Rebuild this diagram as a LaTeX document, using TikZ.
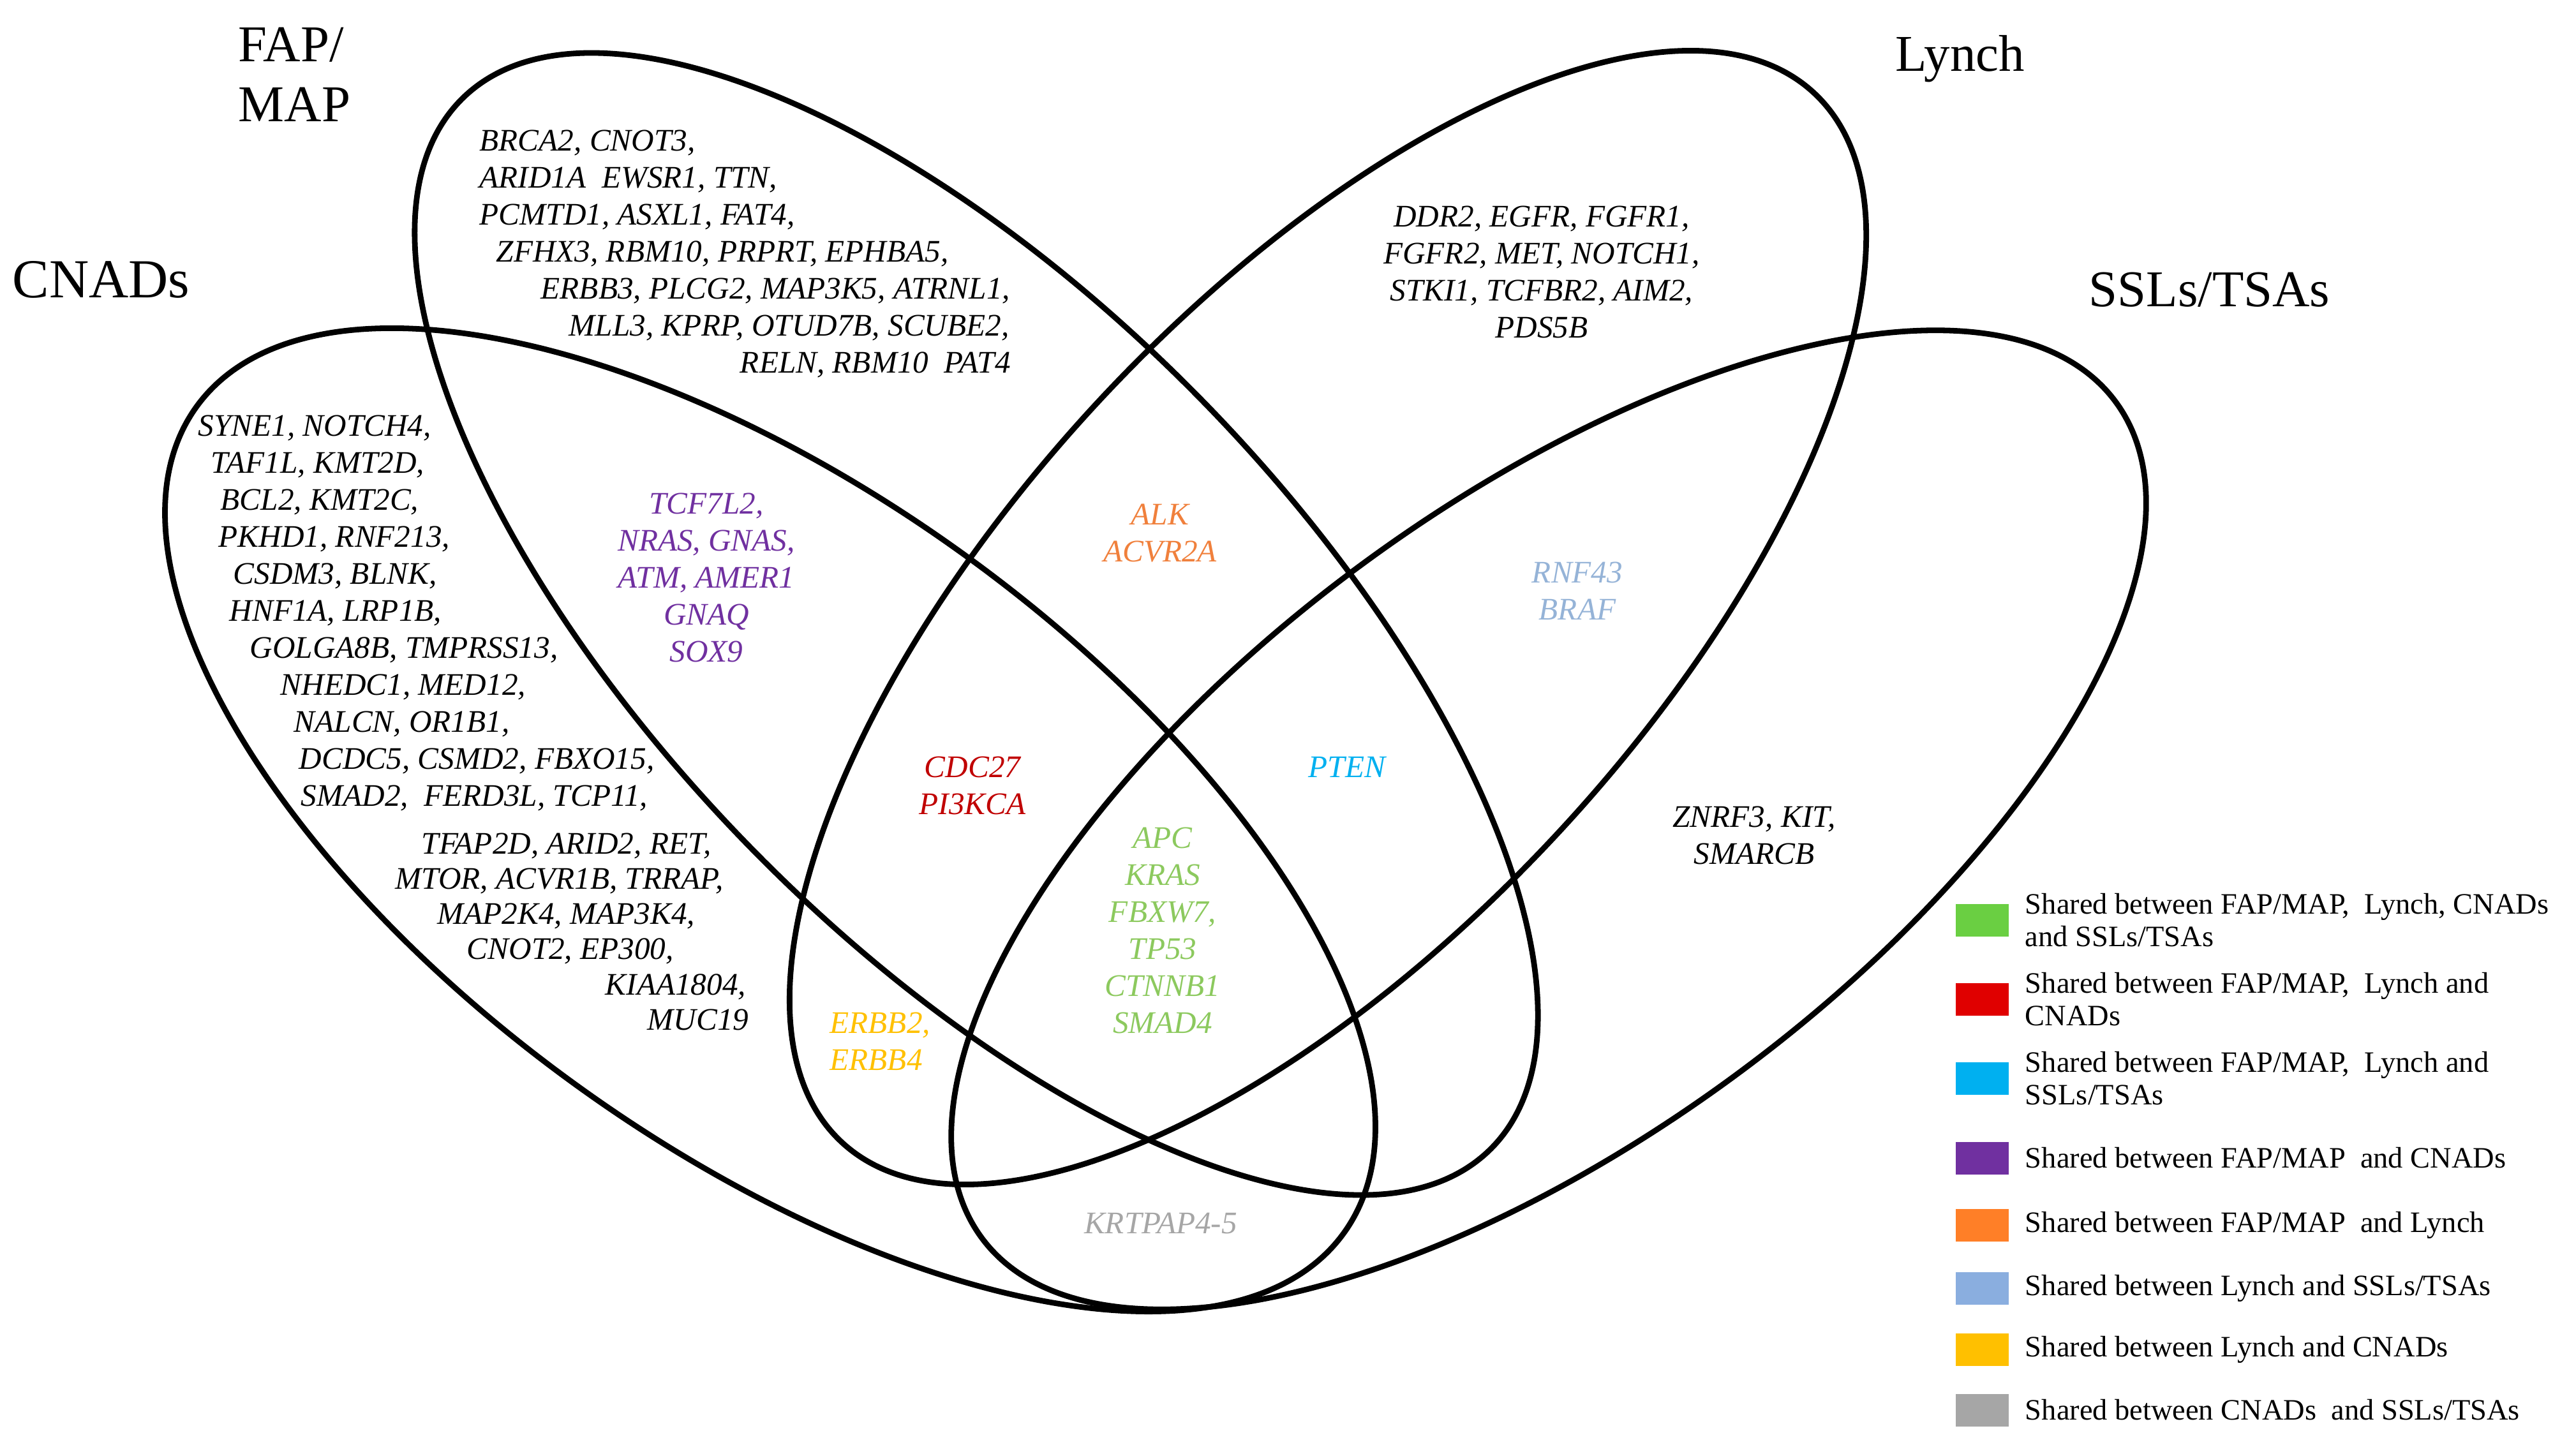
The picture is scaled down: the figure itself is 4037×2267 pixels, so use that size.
\documentclass[tikz,border=0pt]{standalone}
\usepackage{fontspec}
\setmainfont{Liberation Serif}
\usetikzlibrary{positioning}

\definecolor{allgreen}{HTML}{6ACF42}
\definecolor{allgreentxt}{HTML}{8CC95E}
\definecolor{threered}{HTML}{E00000}
\definecolor{threeredtxt}{HTML}{C00000}
\definecolor{threeblue}{HTML}{00B0F0}
\definecolor{fapcnad}{HTML}{7030A0}
\definecolor{faplynch}{HTML}{FF7F27}
\definecolor{faplynchtxt}{HTML}{F0803C}
\definecolor{lynchssl}{HTML}{8AAEDF}
\definecolor{lynchssltxt}{HTML}{95B3D7}
\definecolor{lynchcnad}{HTML}{FFC000}
\definecolor{cnadssl}{HTML}{A6A6A6}

\begin{document}
\begin{tikzpicture}[
    x=0.01cm, y=-0.01cm,
    every node/.style={inner sep=0pt},
    setname/.style={font=\fontsize{23}{26.7}\selectfont, align=left},
    genes/.style={font=\fontsize{14}{16.5}\selectfont\itshape},
    venn/.style={line width=2.5pt},
    swatch/.style={minimum width=0.83cm, minimum height=0.51cm},
    legendtext/.style={font=\fontsize{13.2}{14.5}\selectfont, align=left, right=0.25cm of #1}
]
\useasboundingbox (0,0) rectangle (4037,2267);

% the four sets
\draw[venn, rotate around={-45.7:(1530,978)}] (1530,978) ellipse [x radius=1152, y radius=498];
\draw[venn, rotate around={47.2:(2081,968)}] (2081,968) ellipse [x radius=1121, y radius=494];
\draw[venn, rotate around={-35.75:(1207,1285)}] (1207,1285) ellipse [x radius=1108, y radius=515];
\draw[venn, rotate around={36.4:(2427,1285)}] (2427,1285) ellipse [x radius=1104, y radius=496];

\node[setname, anchor=west] (fapname) at (373,117) {FAP/\\MAP};
\node[setname, anchor=base west, font=\fontsize{24.5}{26.7}\selectfont] (cnadname) at (19,466) {CNADs};
\node[setname, anchor=base west] (lynchname) at (2970,112) {Lynch};
\node[setname, anchor=base west] (sslname) at (3273,481) {SSLs/TSAs};

\node[genes, align=left, anchor=north west] (fapgenes) at (751,203) {BRCA2, CNOT3,\\ARID1A~ EWSR1, TTN,\\PCMTD1, ASXL1, FAT4,\\\hspace*{0.26cm}ZFHX3, RBM10, PRPRT, EPHBA5,\\\hspace*{0.96cm}ERBB3, PLCG2, MAP3K5, ATRNL1,\\\hspace*{1.40cm}MLL3, KPRP, OTUD7B, SCUBE2,\\\hspace*{4.08cm}RELN, RBM10~ PAT4};
\node[genes, align=left, anchor=north west] (cnadgenes) at (310,650) {SYNE1, NOTCH4,\\\hspace*{0.20cm}TAF1L, KMT2D,\\\hspace*{0.35cm}BCL2, KMT2C,\\\hspace*{0.32cm}PKHD1, RNF213,\\\hspace*{0.55cm}CSDM3, BLNK,\\\hspace*{0.49cm}HNF1A, LRP1B,\\\hspace*{0.81cm}GOLGA8B, TMPRSS13,\\\hspace*{1.29cm}NHEDC1, MED12,\\\hspace*{1.50cm}NALCN, OR1B1,\\\hspace*{1.58cm}DCDC5, CSMD2, FBXO15,\\\hspace*{1.61cm}SMAD2,~ FERD3L, TCP11,};
\node[genes, font=\fontsize{14}{15.7}\selectfont\itshape, align=left, anchor=north west] (cnadgenesb) at (619,1305) {\hspace*{0.41cm}TFAP2D, ARID2, RET,\\MTOR, ACVR1B, TRRAP,\\\hspace*{0.66cm}MAP2K4, MAP3K4,\\\hspace*{1.12cm}CNOT2, EP300,\\\hspace*{3.29cm}KIAA1804,\\\hspace*{3.95cm}MUC19};
\node[genes, align=center] (lynchgenes) at (2416,426) {DDR2, EGFR, FGFR1,\\FGFR2, MET, NOTCH1,\\STKI1, TCFBR2, AIM2,\\PDS5B};
\node[genes, align=center] (sslgenes) at (2749,1309) {ZNRF3, KIT,\\SMARCB};

\node[genes, align=center, text=fapcnad] (fapcnadgenes) at (1107,905) {TCF7L2,\\NRAS, GNAS,\\ATM, AMER1\\GNAQ\\SOX9};
\node[genes, align=center, text=faplynchtxt] (faplynchgenes) at (1818,836) {ALK\\ACVR2A};
\node[genes, align=center, text=threeredtxt] (redgenes) at (1524,1231) {CDC27\\PI3KCA};
\node[genes, align=center, text=allgreentxt] (allgenes) at (1822,1458) {APC\\KRAS\\FBXW7,\\TP53\\CTNNB1\\SMAD4};
\node[genes, text=threeblue] (bluegenes) at (2111,1202) {PTEN};
\node[genes, align=center, text=lynchssltxt] (lynchsslgenes) at (2472,926) {RNF43\\BRAF};
\node[genes, align=left, anchor=west, text=lynchcnad] (lynchcnadgenes) at (1300,1632) {ERBB2,\\ERBB4};
\node[genes, text=cnadssl] (cnadsslgenes) at (1819,1917) {KRTPAP4-5};

\node[swatch, fill=allgreen] (sw1) at (3106,1442) {};
\node[swatch, fill=threered] (sw2) at (3106,1566) {};
\node[swatch, fill=threeblue] (sw3) at (3106,1690) {};
\node[swatch, fill=fapcnad] (sw4) at (3106,1815) {};
\node[swatch, fill=faplynch] (sw5) at (3106,1920) {};
\node[swatch, fill=lynchssl] (sw6) at (3106,2019) {};
\node[swatch, fill=lynchcnad] (sw7) at (3106,2115) {};
\node[swatch, fill=cnadssl] (sw8) at (3106,2210) {};
\node[legendtext=sw1] (lg1) {Shared between FAP/MAP,~ Lynch, CNADs\\and SSLs/TSAs};
\node[legendtext=sw2] (lg2) {Shared between FAP/MAP,~ Lynch and\\CNADs};
\node[legendtext=sw3] (lg3) {Shared between FAP/MAP,~ Lynch and\\SSLs/TSAs};
\node[legendtext=sw4] (lg4) {Shared between FAP/MAP~ and CNADs};
\node[legendtext=sw5] (lg5) {Shared between FAP/MAP~ and Lynch};
\node[legendtext=sw6] (lg6) {Shared between Lynch and SSLs/TSAs};
\node[legendtext=sw7] (lg7) {Shared between Lynch and CNADs};
\node[legendtext=sw8] (lg8) {Shared between CNADs~ and SSLs/TSAs};

\end{tikzpicture}
\end{document}
